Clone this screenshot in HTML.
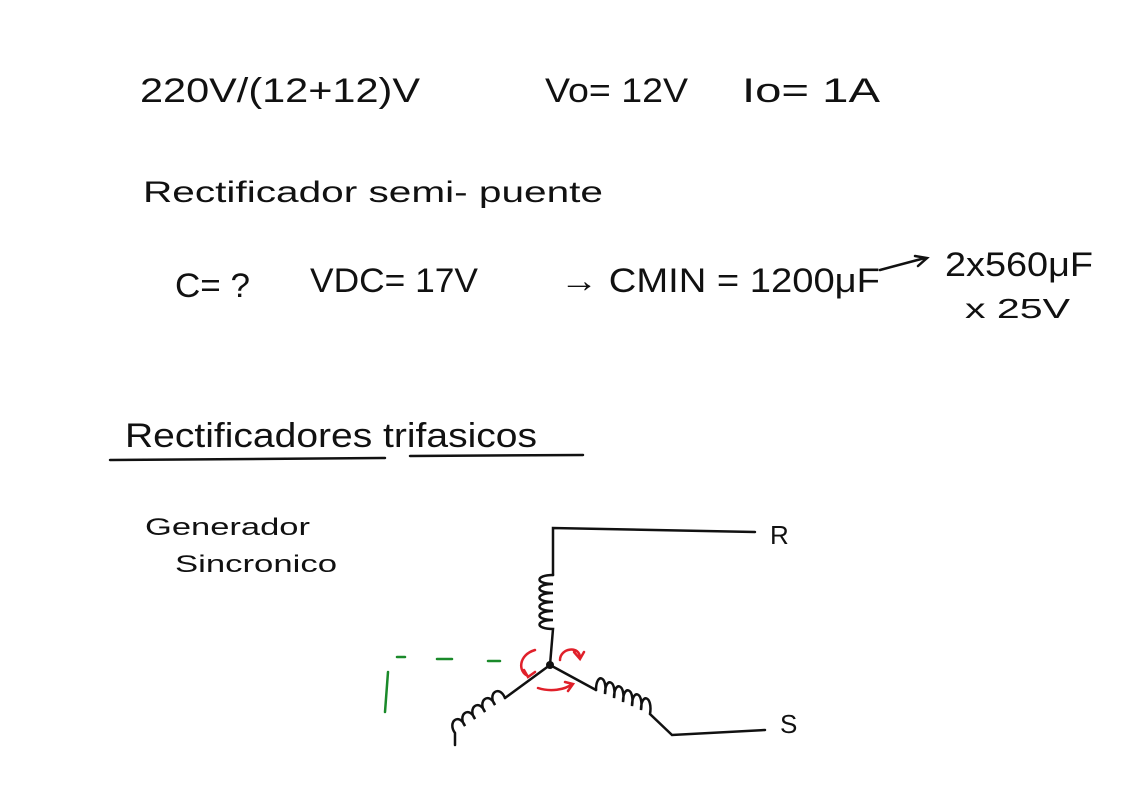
<!DOCTYPE html>
<html><head><meta charset="utf-8"><style>
html,body{margin:0;padding:0;background:#fff;}
svg{display:block}
text{font-family:"Liberation Sans",sans-serif;fill:#111}
</style></head><body>
<svg width="1122" height="793" viewBox="0 0 1122 793" xmlns="http://www.w3.org/2000/svg">
<g font-size="34">
<text x="140" y="102" textLength="280" lengthAdjust="spacingAndGlyphs">220V/(12+12)V</text>
<text x="545" y="102" textLength="143" lengthAdjust="spacingAndGlyphs">Vo= 12V</text>
<text x="742" y="102" textLength="138" lengthAdjust="spacingAndGlyphs">Io= 1A</text>
<text x="143" y="202" font-size="30" textLength="460" lengthAdjust="spacingAndGlyphs">Rectificador semi- puente</text>
<text x="175" y="297" textLength="75" lengthAdjust="spacingAndGlyphs">C= ?</text>
<text x="310" y="292" textLength="168" lengthAdjust="spacingAndGlyphs">VDC= 17V</text>
<text x="560" y="292" textLength="320" lengthAdjust="spacingAndGlyphs">→ CMIN = 1200μF</text>
<text x="945" y="276" textLength="148" lengthAdjust="spacingAndGlyphs">2x560μF</text>
<text x="965" y="318" font-size="28" textLength="105" lengthAdjust="spacingAndGlyphs">x 25V</text>
<text x="125" y="447" textLength="412" lengthAdjust="spacingAndGlyphs">Rectificadores trifasicos</text>
<text x="145" y="535" font-size="24" textLength="165" lengthAdjust="spacingAndGlyphs">Generador</text>
<text x="175" y="572" font-size="24" textLength="162" lengthAdjust="spacingAndGlyphs">Sincronico</text>
<text x="770" y="544" font-size="26">R</text>
<text x="780" y="733" font-size="26">S</text>
</g>
<g stroke="#111" stroke-width="2.5" fill="none" stroke-linecap="round">
<path d="M880 270 L925 258 M915 256 L927 258 L918 266"/>
<path d="M110 460 L385 458 M410 456 L583 455"/>
<path d="M755 532 L553 528 L553 575"/>
<path d="M553 575 c-18 0 -18 9 0 9 c-18 0 -18 9 0 9 c-18 0 -18 9 0 9 c-18 0 -18 9 0 9 c-18 0 -18 9 0 9 c-18 0 -18 9 0 9 L550 665"/>
<path d="M550 665 L596 690"/>
<path d="M596 690 c0 -18 12 -14 9 4 c0 -18 12 -14 9 4 c0 -18 12 -14 9 4 c0 -18 12 -14 9 4 c0 -18 12 -14 9 4 c0 -18 12 -14 9 4 L672 735 L765 730"/>
<path d="M550 665 L505 698"/>
<path d="M505 698 c-6 -14 -18 -4 -10 7 c-6 -14 -18 -4 -10 7 c-6 -14 -18 -4 -10 7 c-6 -14 -18 -4 -10 7 c-6 -14 -18 -4 -10 7 L455 745"/>
</g>
<circle cx="550" cy="665" r="4" fill="#111"/>
<g stroke="#1a8a2a" stroke-width="2.5" fill="none" stroke-linecap="round">
<path d="M397 657 L405 657 M437 659 L452 659 M488 661 L500 661 M388 672 L385 712"/>
</g>
<g stroke="#e0202a" stroke-width="2.5" fill="none" stroke-linecap="round">
<path d="M535 650 C518 655 518 672 528 676 M524 670 L528 677 L535 672"/>
<path d="M560 660 C560 648 580 645 580 658 M574 652 L580 659 L584 652"/>
<path d="M538 688 C550 692 565 690 572 684 M565 682 L573 684 L568 691"/>
</g>
</svg>
</body></html>
